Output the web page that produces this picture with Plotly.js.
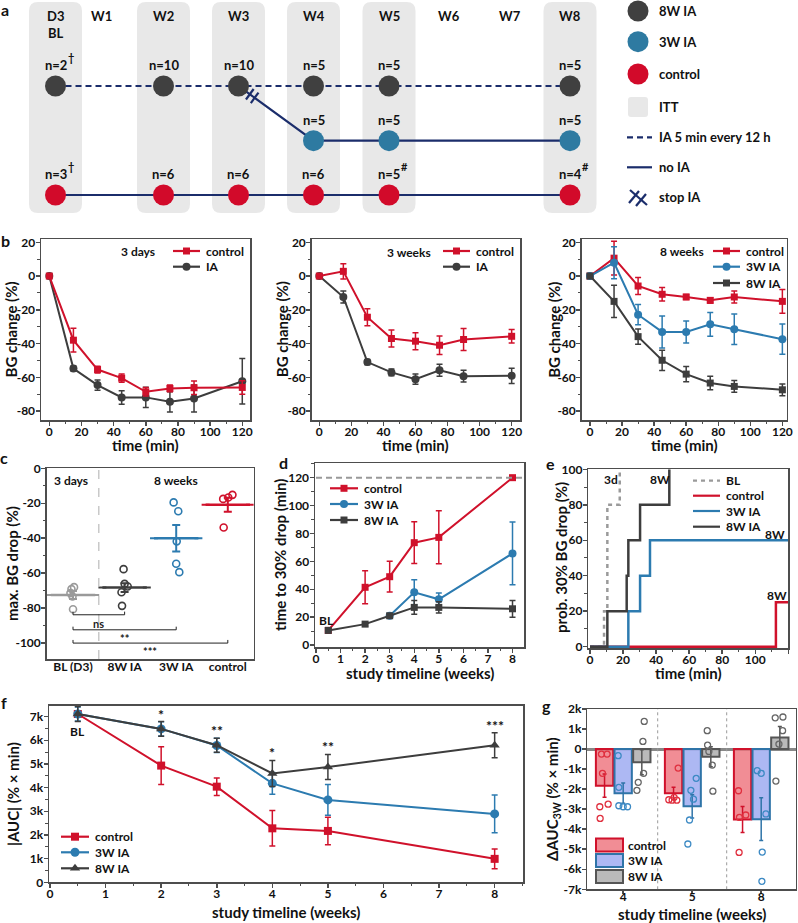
<!DOCTYPE html>
<html>
<head>
<meta charset="utf-8">
<script src="https://cdn.plot.ly/plotly-3.0.1.min.js"></script>
<style>html,body{margin:0;padding:0;background:#fff}#fig{width:798px;height:923px}</style>
</head>
<body>
<div id="fig"></div>
<script>
// ---------- data ----------
// a: study design (n per group and time point)
const COLS = ['D3', 'W1', 'W2', 'W3', 'W4', 'W5', 'W6', 'W7', 'W8'];
const ITT_COLS = ['D3', 'W2', 'W3', 'W4', 'W5', 'W8'];
const ia8Weeks = ['D3', 'W2', 'W3', 'W4', 'W5', 'W8'];
const ia8N = [2, 10, 10, 5, 5, 5];
const ia8Mark = ['†', '', '', '', '', ''];
const ia3Weeks = ['W4', 'W5', 'W8'];
const ia3N = [5, 5, 5];
const ctrlWeeks = ['D3', 'W2', 'W3', 'W4', 'W5', 'W8'];
const ctrlN = [3, 6, 6, 6, 5, 4];
const ctrlMark = ['†', '', '', '', '#', '#'];

// b: BG change (%) during ITT
const TIME_MIN = [0, 15, 30, 45, 60, 75, 90, 120];
const d3Control = [0, -38, -55.4, -60.5, -68.6, -66.6, -66.2, -66];
const d3ControlErr = [0, 7, 2, 2.5, 2.5, 2, 4, 4];
const d3IA = [0, -54.8, -64.6, -71.9, -71.9, -74.5, -72.5, -62.3];
const d3IAErr = [0, 1.5, 3, 4, 6, 6, 8, 13.5];
const w3Control = [0, 2.8, -24.4, -37, -38.6, -41, -37.6, -35.7];
const w3ControlErr = [0, 4.5, 5, 5, 5, 5.5, 6.5, 4];
const w3IA = [0, -12.4, -51, -57.1, -61.1, -55.8, -59.3, -59.1];
const w3IAErr = [0, 3.5, 1.5, 2, 3, 3.5, 3.5, 4.5];
const w8Control = [0, 10.6, -5.9, -10.8, -12.4, -14.4, -12.4, -15];
const w8ControlErr = [0, 10, 5, 4, 1.5, 1.5, 3.5, 7];
const w8IA3 = [0, 7.9, -22.9, -33.1, -33.1, -28.6, -31.5, -37.4];
const w8IA3Err = [0, 9.5, 6, 9.5, 6.5, 7, 9, 9];
const w8IA8 = [0, -15, -35.9, -49.9, -58.1, -63.4, -65.4, -67.4];
const w8IA8Err = [0, 9.5, 4.5, 6, 4.5, 4, 3.5, 3.5];

// c: max. BG drop (%)
const DROP_GROUPS = ['BL (D3)', '8W IA', '3W IA', 'control'];
const dropBL = [-68.0, -69.1, -71.4, -73.3, -80.6];
const drop8W = [-57.7, -66.1, -67.6, -70.9, -78.7];
const drop3W = [-19.5, -24.6, -41.8, -54.6, -59.4];
const dropCtrl = [-17.5, -16.7, -15.2, -33.9];
const dropJitter = [[0.02, -0.03, -0.05, -0.01, 0.0], [-0.02, 0.0, 0.06, -0.06, -0.05],
                    [-0.05, 0.04, 0.01, 0.0, 0.06], [-0.09, 0.01, 0.09, -0.08]];
const dropSem = [2.3, 2.5, 7.6, 4];
const dropSig = [['ns', 2, -83.8], ['**', 3, -92.4], ['***', 4, -100]];

// d: time to 30% drop (min)
const WEEKS = [0.5, 2, 3, 4, 5, 8];
const WEEKS_3W = [3, 4, 5, 8];
const t30Control = [10.5, 41.4, 49, 73.4, 77.2, 120];
const t30ControlErr = [0, 11.8, 11, 15, 19, 0];
const t30IA3 = [21, 37.8, 32.8, 65.7];
const t30IA3Err = [0, 9, 4.5, 22.5];
const t30IA8 = [10.5, 15, 21, 27, 27, 26];
const t30IA8Err = [0, 1.5, 1.5, 5, 4, 6];

// e: probability of 30% BG drop (%)
const probBLT = [0, 8.5, 10.5, 18];
const probBL = [0, 20, 80, 100];
const probCtrlT = [0, 112.5, 120];
const probCtrl = [0, 25, 25];
const prob3WT = [0, 23.2, 30.3, 36.3, 120];
const prob3W = [0, 20, 40, 60, 60];
const prob8WT = [0, 10.5, 22.2, 23.2, 30.3, 48];
const prob8W = [0, 20, 40, 60, 80, 100];

// f: |AUC| (% x min)
const aucControl = [7110, 4930, 4040, 2280, 2170, 990];
const aucControlErr = [120, 800, 370, 750, 580, 420];
const auc3W = [7110, 6480, 5780, 4180, 3480, 2890];
const auc3WErr = [300, 300, 300, 460, 650, 800];
const auc8W = [7110, 6480, 5790, 4600, 4870, 5790];
const auc8WErr = [320, 310, 300, 550, 530, 530];
const aucStars = ['', '*', '**', '*', '**', '***'];

// g: delta AUC vs 3 weeks
const G_WEEKS = ['4', '5', '8'];
const dAucControl = [-1830, -2200, -3520];
const dAucControlErr = [580, 300, 650];
const dAuc3W = [-2200, -2860, -3500];
const dAuc3WErr = [500, 580, 1070];
const dAuc8W = [-660, -380, 580];
const dAuc8WErr = [620, 500, 550];
const ptsCtrlX = [-0.315, -0.233, -0.30, -0.339, -0.218, -0.334, 0.797, 0.661, 0.709, 0.738, 0.777, 1.671, 1.685, 1.777, 1.68];
const ptsCtrlY = [-250, -250, -1210, -2880, -2750, -3460, -950, -2530, -2550, -2410, -2550, -2080, -3410, -3290, -5160];
const pts3WX = [-0.073, -0.063, -0.063, 0, 0.063, 1.058, 0.981, 1.019, 0.961, 0.937, 1.942, 2.0, 2.068, 2.015, 2.01];
const pts3WY = [-330, -1910, -2830, -2880, -2880, -1460, -2060, -2500, -3540, -4740, -1080, -1210, -3240, -5140, -6600];
const pts8WX = [0.305, 0.286, 0.296, 0.218, 0.199, 1.218, 1.223, 1.242, 1.291, 1.3, 2.203, 2.315, 2.31, 2.257, 2.213];
const pts8WY = [1380, 380, -1210, -1660, -2060, 920, 200, -120, -800, -2100, 1560, 1600, 920, 250, -1600];

// tick values
const TICKS_B = [-80, -60, -40, -20, 0, 20];
const TICKS_C = [-100, -80, -60, -40, -20, 0];
const TICKS_F = [0, 1000, 2000, 3000, 4000, 5000, 6000, 7000];
const TICKS_G = [-7000, -6000, -5000, -4000, -3000, -2000, -1000, 0, 1000, 2000];

// ---------- style / layout helpers ----------
const W = 798, H = 923;
const FONT = 'Lato, "Open Sans", "DejaVu Sans", sans-serif';
const RED = '#d0112b', BLUE = '#2c7bb0', DARK = '#3d3d3d', LIGHT = '#9a9a9a', NAVY = '#1b2d6b', AXIS = '#4d4d4d';

const xd = (l, r) => [l / W, r / W];
const yd = (t, b) => [1 - b / H, 1 - t / H];
const font = (size, color) => ({ family: FONT, size, color: color || '#111', weight: 'bold' });
const id = n => (n === 1 ? '' : n);
const kLabel = v => (v === 0 ? '0' : String(v / 1000) + 'k');

const traces = [];
const annotations = [];
const shapes = [];

function txt(x, y, text, size, opts) {
    annotations.push(Object.assign({ xref: 'x9', yref: 'y9', x, y, text, showarrow: false,
        font: font(size), xanchor: 'center', yanchor: 'middle' }, opts));
}

function axis(domain, range, anchor, extra) {
    return Object.assign({
        domain, range, anchor, showline: true, mirror: true, linecolor: AXIS, linewidth: 1.5,
        ticks: 'outside', ticklen: 4, tickwidth: 1.5, tickcolor: AXIS, showgrid: false, zeroline: false,
        tickfont: font(12), fixedrange: true, ticklabelstandoff: anchor.startsWith('y') ? -4 : -2
    }, extra);
}
const minor = d => ({ ticks: 'outside', ticklen: 2.5, tickwidth: 1, tickcolor: AXIS, dtick: d, tick0: 0, showgrid: false });
const arrTicks = (vals, fmt) => ({ tickmode: 'array', tickvals: vals, ticktext: vals.map(fmt || String) });

function series(n, x, y, err, color, symbol, size) {
    const t = { type: 'scatter', mode: 'lines+markers', xaxis: 'x' + id(n), yaxis: 'y' + id(n), x, y,
        line: { color, width: 2 }, marker: { color, symbol, size: size || 8 },
        showlegend: false, hoverinfo: 'skip', cliponaxis: false };
    if (err) t.error_y = { type: 'data', array: err, color, thickness: 1.5, width: 3 };
    traces.push(t);
}

function step(n, x, y, color, dash) {
    traces.push({ type: 'scatter', mode: 'lines', xaxis: 'x' + id(n), yaxis: 'y' + id(n), x, y,
        line: { color, width: 2.5, shape: 'hv', dash: dash || 'solid' }, showlegend: false, hoverinfo: 'skip' });
}

function legendKey(x0, x1, y, color, symbol, label, dash, msize) {
    traces.push({ type: 'scatter', mode: 'lines', xaxis: 'x9', yaxis: 'y9', x: [x0, x1], y: [y, y],
        line: { color, width: 2.2, dash: dash || 'solid' }, showlegend: false, hoverinfo: 'skip' });
    if (symbol) {
        traces.push({ type: 'scatter', mode: 'markers', xaxis: 'x9', yaxis: 'y9', x: [(x0 + x1) / 2], y: [y],
            marker: { color, symbol, size: msize || 8 }, showlegend: false, hoverinfo: 'skip' });
    }
    txt(x1 + 4, y, label, 12, { xanchor: 'left' });
}

function roundRect(x0, y0, x1, y1, r, fill) {
    shapes.push({ type: 'path', xref: 'x9', yref: 'y9', layer: 'below', fillcolor: fill, line: { width: 0 },
        path: `M${x0 + r},${y0} H${x1 - r} Q${x1},${y0} ${x1},${y0 + r} V${y1 - r} Q${x1},${y1} ${x1 - r},${y1}` +
              ` H${x0 + r} Q${x0},${y1} ${x0},${y1 - r} V${y0 + r} Q${x0},${y0} ${x0 + r},${y0} Z` });
}

function seg(x0, y0, x1, y1, color, width, dash) {
    shapes.push({ type: 'line', xref: 'x9', yref: 'y9', x0, y0, x1, y1, line: { color, width, dash: dash || 'solid' } });
}

// ---------- panel a: schematic ----------
const COL_PX = { D3: 55.5, W1: 101, W2: 163.5, W3: 238.5, W4: 313.5, W5: 389, W6: 449, W7: 510, W8: 570 };
const ROW_PX = { ia8: 86, ia3: 140.7, ctrl: 195 };
const A_DARK = '#404040', A_BLUE = '#2e7aa1', A_RED = '#d20a2a', ITT = '#e8e8e8';

ITT_COLS.forEach(c => roundRect(COL_PX[c] - 26.5, 2, COL_PX[c] + 26.5, 213, 9, ITT));
COLS.forEach(c => txt(COL_PX[c], 16, c, 13));
txt(COL_PX.D3, 33, 'BL', 13);

traces.push({ type: 'scatter', mode: 'lines', xaxis: 'x9', yaxis: 'y9', x: ia8Weeks.map(w => COL_PX[w]),
    y: ia8Weeks.map(() => ROW_PX.ia8), line: { color: NAVY, width: 2.2, dash: '6px,4px' }, showlegend: false, hoverinfo: 'skip' });
traces.push({ type: 'scatter', mode: 'lines', xaxis: 'x9', yaxis: 'y9', x: ['W3'].concat(ia3Weeks).map(w => COL_PX[w]),
    y: [ROW_PX.ia8].concat(ia3Weeks.map(() => ROW_PX.ia3)), line: { color: NAVY, width: 2.2 }, showlegend: false, hoverinfo: 'skip' });
traces.push({ type: 'scatter', mode: 'lines', xaxis: 'x9', yaxis: 'y9', x: ctrlWeeks.map(w => COL_PX[w]),
    y: ctrlWeeks.map(() => ROW_PX.ctrl), line: { color: NAVY, width: 2.2 }, showlegend: false, hoverinfo: 'skip' });

// stop IA marks on the diagonal
(function () {
    const ax0 = COL_PX.W3, ay0 = ROW_PX.ia8, ax1 = COL_PX.W4, ay1 = ROW_PX.ia3;
    const len = Math.hypot(ax1 - ax0, ay1 - ay0);
    const dx = (ax1 - ax0) / len, dy = (ay1 - ay0) / len;
    [14, 20].forEach(s => {
        const cx = ax0 + dx * s, cy = ay0 + dy * s;
        seg(cx + dy * 6.5, cy - dx * 6.5, cx - dy * 6.5, cy + dx * 6.5, NAVY, 2.2);
    });
})();

[[ia8Weeks, ROW_PX.ia8, A_DARK, ia8N, ia8Mark], [ia3Weeks, ROW_PX.ia3, A_BLUE, ia3N, null],
 [ctrlWeeks, ROW_PX.ctrl, A_RED, ctrlN, ctrlMark]].forEach(([weeks, row, color, ns, marks]) => {
    traces.push({ type: 'scatter', mode: 'markers', xaxis: 'x9', yaxis: 'y9', x: weeks.map(w => COL_PX[w]),
        y: weeks.map(() => row), marker: { color, size: 21 }, showlegend: false, hoverinfo: 'skip' });
    weeks.forEach((w, i) => {
        txt(COL_PX[w], row - 21, 'n=' + ns[i], 13);
        if (marks && marks[i]) txt(COL_PX[w] + 15, row - 29, marks[i], 11);
    });
});

// legend of a
const LA = 638, LT = 657;
[[11, A_DARK, '8W IA'], [41.7, A_BLUE, '3W IA'], [74, A_RED, 'control']].forEach(([y, c, l]) => {
    traces.push({ type: 'scatter', mode: 'markers', xaxis: 'x9', yaxis: 'y9', x: [LA], y: [y],
        marker: { color: c, size: 21 }, showlegend: false, hoverinfo: 'skip' });
    txt(LT, y, l, 13, { xanchor: 'left' });
});
roundRect(628, 97, 648, 117, 3, ITT);
txt(LT, 107, 'ITT', 13, { xanchor: 'left' });
seg(627, 137.3, 652, 137.3, NAVY, 2.2, '6px,4px');
txt(LT, 137.3, 'IA 5 min every 12 h', 13, { xanchor: 'left' });
seg(627, 167.3, 652, 167.3, NAVY, 2.2);
txt(LT, 167.3, 'no IA', 13, { xanchor: 'left' });
seg(630, 190, 647, 205, NAVY, 2.2);
seg(629, 203, 639, 191, NAVY, 2.2);
seg(636, 206, 646, 194, NAVY, 2.2);
txt(LT, 197.3, 'stop IA', 13, { xanchor: 'left' });

// ---------- panel b ----------
series(1, TIME_MIN, d3IA, d3IAErr, DARK, 'circle');
series(1, TIME_MIN, d3Control, d3ControlErr, RED, 'square', 7);
series(2, TIME_MIN, w3IA, w3IAErr, DARK, 'circle');
series(2, TIME_MIN, w3Control, w3ControlErr, RED, 'square', 7);
series(3, TIME_MIN, w8Control, w8ControlErr, RED, 'square', 7);
series(3, TIME_MIN, w8IA3, w8IA3Err, BLUE, 'circle');
series(3, TIME_MIN, w8IA8, w8IA8Err, DARK, 'square', 7);

txt(138, 251.7, '3 days', 12);
legendKey(173, 200, 251, RED, 'square', 'control', null, 7);
legendKey(173, 200, 266.7, DARK, 'circle', 'IA');
txt(409, 252, '3 weeks', 12);
legendKey(443, 470, 251, RED, 'square', 'control', null, 7);
legendKey(443, 470, 266.7, DARK, 'circle', 'IA');
txt(681.7, 251, '8 weeks', 12);
legendKey(713, 740, 251, RED, 'square', 'control', null, 7);
legendKey(713, 740, 266.7, BLUE, 'circle', '3W IA');
legendKey(713, 740, 283, DARK, 'square', '8W IA', null, 7);

// ---------- panel c ----------
const dropColors = [LIGHT, DARK, BLUE, RED];
[dropBL, drop8W, drop3W, dropCtrl].forEach((vals, g) => {
    const pos = g + 1;
    const mean = vals.reduce((a, b) => a + b, 0) / vals.length;
    traces.push({ type: 'scatter', mode: 'markers', xaxis: 'x4', yaxis: 'y4',
        x: vals.map((v, i) => pos + dropJitter[g][i]), y: vals,
        marker: { symbol: 'circle-open', size: 7, color: dropColors[g], line: { width: 1.6 } },
        showlegend: false, hoverinfo: 'skip', cliponaxis: false });
    traces.push({ type: 'scatter', mode: 'lines', xaxis: 'x4', yaxis: 'y4',
        x: [pos - 0.43, pos, pos + 0.43], y: [mean, mean, mean], line: { color: dropColors[g], width: 2.5 },
        error_y: { type: 'data', array: [0, dropSem[g], 0], color: dropColors[g], thickness: 2, width: 4 },
        showlegend: false, hoverinfo: 'skip' });
});
shapes.push({ type: 'line', xref: 'x4', yref: 'y4', x0: 1.5, x1: 1.5, y0: -109.1, y1: 0,
    line: { color: '#bbb', width: 1.2, dash: 'dash' } });
dropSig.forEach(([label, to, y]) => {
    shapes.push({ type: 'path', xref: 'x4', yref: 'y4', path: `M1,${y + 1.8} L1,${y} L${to},${y} L${to},${y + 1.8}`,
        line: { color: '#222', width: 1 } });
    annotations.push({ xref: 'x4', yref: 'y4', x: (1 + to) / 2, y, yanchor: 'top', text: label, showarrow: false,
        font: font(11, '#222') });
});
annotations.push({ xref: 'x4', yref: 'y4', x: 0.97, y: -6.7, text: '3 days', showarrow: false, font: font(12) });
annotations.push({ xref: 'x4', yref: 'y4', x: 3.0, y: -6.7, text: '8 weeks', showarrow: false, font: font(12) });

// ---------- panel d ----------
shapes.push({ type: 'line', xref: 'x5', yref: 'y5', x0: 0, x1: 8.5, y0: 120, y1: 120,
    line: { color: '#999', width: 2, dash: '6px,4px' } });
series(5, WEEKS, t30Control, t30ControlErr, RED, 'square', 7);
series(5, WEEKS_3W, t30IA3, t30IA3Err, BLUE, 'circle');
series(5, WEEKS, t30IA8, t30IA8Err, DARK, 'square', 7);
annotations.push({ xref: 'x5', yref: 'y5', x: 0.44, y: 17.4, text: 'BL', showarrow: false, font: font(12) });
legendKey(330, 358, 488.3, RED, 'square', 'control', null, 7);
legendKey(330, 358, 504, BLUE, 'circle', '3W IA');
legendKey(330, 358, 520, DARK, 'square', '8W IA', null, 7);

// ---------- panel e ----------
step(6, probBLT, probBL, LIGHT, '4px,4px');
step(6, probCtrlT, probCtrl, RED);
step(6, prob3WT, prob3W, BLUE);
step(6, prob8WT, prob8W, DARK);
[[13, 94, '3d'], [42.3, 94, '8W'], [112, 63.4, '8W'], [113, 28.8, '8W']].forEach(([x, y, t]) =>
    annotations.push({ xref: 'x6', yref: 'y6', x, y, text: t, showarrow: false, font: font(12) }));
legendKey(693, 720, 480.7, LIGHT, null, 'BL', '4px,4px');
legendKey(693, 720, 495.7, RED, null, 'control');
legendKey(693, 720, 511, BLUE, null, '3W IA');
legendKey(693, 720, 526.7, DARK, null, '8W IA');

// ---------- panel f ----------
series(7, WEEKS, aucControl, aucControlErr, RED, 'square', 8);
series(7, WEEKS, auc3W, auc3WErr, BLUE, 'circle', 9);
series(7, WEEKS, auc8W, auc8WErr, DARK, 'triangle-up', 9);
aucStars.forEach((s, i) => {
    if (s) annotations.push({ xref: 'x7', yref: 'y7', x: WEEKS[i], y: auc8W[i] + auc8WErr[i], yanchor: 'bottom',
        yshift: -3, text: s, showarrow: false, font: font(14) });
});
annotations.push({ xref: 'x7', yref: 'y7', x: WEEKS[0], y: 6370, text: 'BL', showarrow: false, font: font(12) });
legendKey(61, 89, 836.7, RED, 'square', 'control', null, 8);
legendKey(61, 89, 852.3, BLUE, 'circle', '3W IA', null, 9);
legendKey(61, 89, 868.3, DARK, 'triangle-up', '8W IA', null, 9);

// ---------- panel g ----------
const G_IDX = G_WEEKS.map((w, i) => i);
[[dAucControl, dAucControlErr, 'rgba(238,112,122,0.8)', RED],
 [dAuc3W, dAuc3WErr, 'rgba(164,176,242,0.9)', '#2f74a8'],
 [dAuc8W, dAuc8WErr, 'rgba(178,178,178,0.9)', '#555']].forEach(([y, e, fill, line]) => {
    traces.push({ type: 'bar', xaxis: 'x8', yaxis: 'y8', x: G_IDX, y, marker: { color: fill, line: { color: line, width: 2 } },
        error_y: { type: 'data', array: e, color: line, thickness: 1.5, width: 2 }, showlegend: false, hoverinfo: 'skip' });
});
[[ptsCtrlX, ptsCtrlY, '#e0303f'], [pts3WX, pts3WY, '#3d8ac4'], [pts8WX, pts8WY, '#666']].forEach(([x, y, c]) => {
    traces.push({ type: 'scatter', mode: 'markers', xaxis: 'x8', yaxis: 'y8', x, y,
        marker: { symbol: 'circle-open', size: 6, color: c, line: { width: 1.3 } }, showlegend: false, hoverinfo: 'skip' });
});
[0.5, 1.5].forEach(x => shapes.push({ type: 'line', xref: 'x8', yref: 'y8', x0: x, x1: x, y0: -7000, y1: 2000,
    line: { color: '#999', width: 1, dash: '3px,3px' } }));
[[845, 'rgba(238,112,122,0.8)', RED, 'control'], [860.5, 'rgba(164,176,242,0.9)', '#2f74a8', '3W IA'],
 [876.5, 'rgba(178,178,178,0.9)', '#555', '8W IA']].forEach(([y, f, l, t]) => {
    shapes.push({ type: 'rect', xref: 'x9', yref: 'y9', x0: 596, x1: 623, y0: y - 6.5, y1: y + 6.5,
        fillcolor: f, line: { color: l, width: 2 } });
    txt(626, y, t, 12, { xanchor: 'left' });
});

// ---------- titles and panel letters ----------
[['a', 5, 9], ['b', 5, 240], ['c', 4, 457], ['d', 283, 462], ['e', 550, 463], ['f', 4, 702], ['g', 546, 705]]
    .forEach(([t, x, y]) => txt(x, y, t, 16));
[[10, 329.5], [281.7, 329.5], [553.3, 329.5]].forEach(([x, y]) => txt(x, y, 'BG change (%)', 15, { textangle: -90 }));
[145.5, 415.9, 684.2].forEach(x => txt(x, 445, 'time (min)', 15));
txt(12, 564, 'max. BG drop (%)', 15, { textangle: -90 });
txt(280, 555, 'time to 30% drop (min)', 15, { textangle: -90 });
txt(561, 558, 'prob. 30% BG drop (%)', 15, { textangle: -90 });
txt(13, 794, '|AUC| (% × min)', 15, { textangle: -90 });
txt(553, 799, 'ΔAUC<sub>3W</sub> (% × min)', 15, { textangle: -90 });
txt(419.6, 673, 'study timeline (weeks)', 15);
txt(688, 673, 'time (min)', 15);
txt(286, 912, 'study timeline (weeks)', 15);
txt(691.5, 914, 'study timeline (weeks)', 15);

// ---------- layout ----------
const layout = {
    width: W, height: H, margin: { l: 0, r: 0, t: 0, b: 0 },
    paper_bgcolor: '#fff', plot_bgcolor: 'rgba(0,0,0,0)', showlegend: false,
    font: font(12), barmode: 'group', bargap: 0.19, bargroupgap: 0.07,
    annotations, shapes,
    xaxis: axis(xd(41, 250), [-5.16, 124.8], 'y', { dtick: 20, minor: minor(10) }),
    yaxis: axis(yd(239, 420), [-85.3, 21.96], 'x', Object.assign(arrTicks(TICKS_B), { minor: minor(10) })),
    xaxis2: axis(xd(311.7, 520), [-4.74, 125.2], 'y2', { dtick: 20, minor: minor(10) }),
    yaxis2: axis(yd(239, 420), [-85.3, 21.96], 'x2', Object.assign(arrTicks(TICKS_B), { minor: minor(10) })),
    xaxis3: axis(xd(581.7, 786.7), [-5.18, 122.7], 'y3', { dtick: 20, minor: minor(10) }),
    yaxis3: axis(yd(239, 420), [-85.3, 21.96], 'x3', Object.assign(arrTicks(TICKS_B), { minor: minor(10) })),
    xaxis4: axis(xd(46.7, 253.6), [0.49, 4.5], 'y4', { tickvals: [1, 2, 3, 4], ticktext: DROP_GROUPS, ticks: '' }),
    yaxis4: axis(yd(468.3, 659), [-109.1, 0], 'x4', Object.assign(arrTicks(TICKS_C), { minor: minor(10) })),
    xaxis5: axis(xd(315, 524.3), [-0.04, 8.48], 'y5', { dtick: 1, minor: minor(0.5) }),
    yaxis5: axis(yd(463.3, 647), [-1.4, 130.3], 'x5', { dtick: 20, minor: minor(10) }),
    xaxis6: axis(xd(588.3, 788.3), [-1.03, 120], 'y6', { dtick: 20, minor: minor(10) }),
    yaxis6: axis(yd(469.3, 648.1), [-0.8, 100], 'x6', { dtick: 20, minor: minor(10) }),
    xaxis7: axis(xd(49, 523), [-0.018, 8.51], 'y7', { dtick: 1, minor: minor(0.5) }),
    yaxis7: axis(yd(705.7, 882.3), [0, 7460], 'x7', Object.assign(arrTicks(TICKS_F, kLabel), { minor: minor(500) })),
    xaxis8: axis(xd(587.3, 795.7), [-0.52, 2.5], 'y8', { tickvals: G_IDX, ticktext: G_WEEKS, ticklen: 3, ticklabelstandoff: -7 }),
    yaxis8: axis(yd(709, 889.3), [-7000, 2000], 'x8', Object.assign(arrTicks(TICKS_G, kLabel),
        { zeroline: true, zerolinecolor: '#888', zerolinewidth: 3 })),
    xaxis9: { domain: [0, 1], range: [0, W], anchor: 'y9', visible: false, fixedrange: true },
    yaxis9: { domain: [0, 1], range: [H, 0], anchor: 'x9', visible: false, fixedrange: true }
};

Plotly.newPlot('fig', traces, layout, { staticPlot: true, displayModeBar: false });
</script>
</body>
</html>
